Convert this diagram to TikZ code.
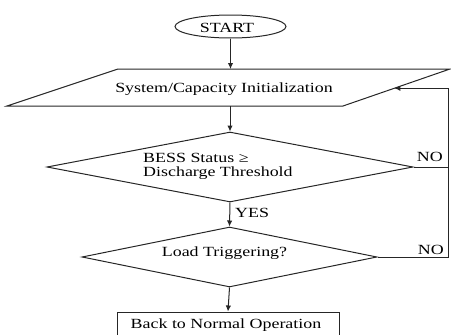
\documentclass[tikz,border=0pt]{standalone}
\usepackage{fontspec}
\setmainfont{Liberation Serif}[FakeStretch=1.28]
\usetikzlibrary{shapes.geometric,arrows.meta,calc}
\tikzset{
  ln/.style={draw=black!85, line width=1pt},
  arr/.style={ln, -{Latex[length=6pt,width=5.5pt]}},
  txt/.style={inner sep=0pt, anchor=base, font=\fontsize{14}{14}\selectfont, text=black},
  lbl/.style={txt, anchor=base east},
  dia/.style={ln, diamond, inner sep=0pt},
}
\begin{document}
\begin{tikzpicture}[x=1pt,y=-1pt]
\useasboundingbox (0,0) rectangle (451,335);
\clip (0,0) rectangle (451,335);
% start
\node[ln, ellipse, minimum width=111pt, minimum height=23pt, inner sep=0pt] (start) at (230.5,26.5) {};
\node[txt] (starttxt) at (227,32) {START};
% parallelogram
\coordinate (ptl) at (118,69);
\coordinate (ptr) at (450,69);
\coordinate (pbr) at (343,106);
\coordinate (pbl) at (7,106);
\draw[ln] (ptl) -- (ptr) -- (pbr) -- (pbl) -- cycle;
\node[txt] (init) at (224,92) {System/Capacity Initialization};
\coordinate (itop) at (start.south |- ptl);
\coordinate (ibot) at (230,106);
\coordinate (iin) at ($(ptr)!0.52!(pbr)$);
% diamond 1
\node[dia, minimum width=366pt, minimum height=70pt] (d1) at (230,167) {};
\node[txt, anchor=base west] (d1a) at (143,162) {BESS Status \symbol{"2265}};
\node[txt, anchor=base west] (d1b) at (143,176) {Discharge Threshold};
% diamond 2
\node[dia, minimum width=295pt, minimum height=60pt] (d2) at (229.5,257) {};
\node[txt] (d2t) at (224.5,256) {Load Triggering?};
% box
\node[ln, rectangle, minimum width=222pt, minimum height=33pt, inner sep=0pt] (box) at (228,328.5) {};
\node[txt] (boxt) at (226,328) {Back to Normal Operation};
% arrows
\draw[arr] (start.south) -- (itop);
\draw[arr] (ibot) -- (d1.north);
\draw[arr] (d1.south) -- (d2.north);
\draw[arr] (d2.south) -- (box.north);
% feedback
\coordinate (rc) at (448,257);
\draw[ln] (d1.east) -- (d1.east -| rc);
\draw[arr] (d2.east) -- (rc) -- (rc |- iin) -- (iin);
% labels
\node[txt, anchor=base west] (yes) at (235,217) {YES};
\node[lbl] (no1) at (443,161.5) {NO};
\node[lbl] (no2) at (444,254.5) {NO};
\end{tikzpicture}
\end{document}
